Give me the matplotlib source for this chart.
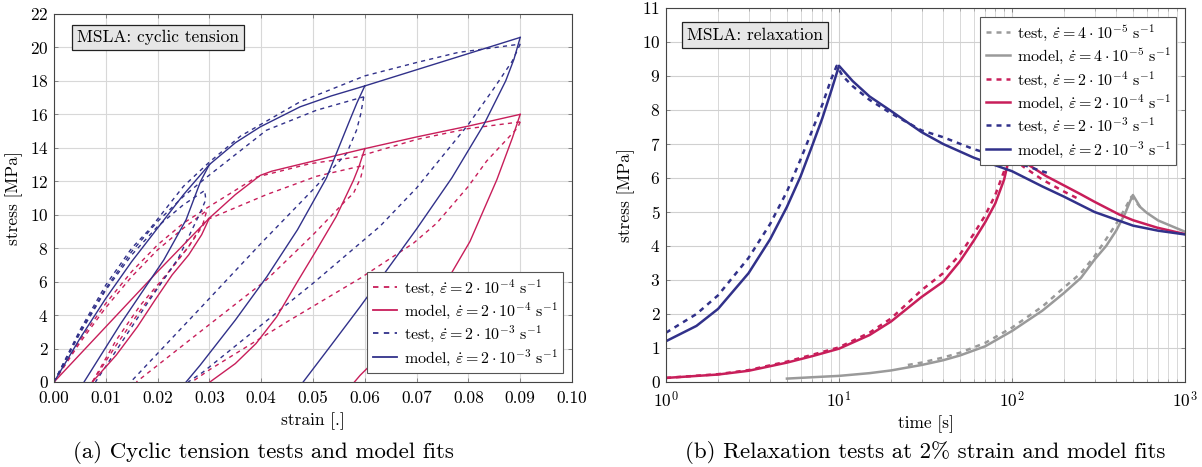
import matplotlib
matplotlib.use("Agg")
import matplotlib.pyplot as plt
from matplotlib.ticker import MultipleLocator

plt.rcParams['font.family'] = ['cmr10', 'DejaVu Serif']
plt.rcParams['mathtext.fontset'] = 'cm'
plt.rcParams['axes.formatter.use_mathtext'] = True
plt.rcParams['axes.unicode_minus'] = False

RED = '#C81E5A'
BLUE = '#31318A'
GRAY = '#9A9A9A'

# ---------------- (a) cyclic tension data: branches (strain, stress) ----------------
# model, 2e-4 1/s
cyc_red_model_strain = [
    [0.0, 0.01, 0.02, 0.03],
    [0.03, 0.0285, 0.026, 0.0228, 0.0195, 0.0161, 0.012, 0.0074],
    [0.03, 0.035, 0.0398, 0.042, 0.0546, 0.06],
    [0.06, 0.0589, 0.0578, 0.0545, 0.0507, 0.047, 0.043, 0.039, 0.035, 0.0301],
    [0.06, 0.07, 0.08, 0.09],
    [0.09, 0.0885, 0.0855, 0.0803, 0.0752, 0.071, 0.067, 0.063, 0.0591, 0.058],
]
cyc_red_model_stress = [
    [0.0, 3.3, 6.6, 9.8],
    [9.8, 8.8, 7.6, 6.4, 4.9, 3.3, 1.6, 0.0],
    [9.8, 11.2, 12.35, 12.6, 13.55, 13.95],
    [13.95, 12.9, 12.05, 9.9, 7.9, 6.0, 3.9, 2.3, 1.1, 0.0],
    [13.95, 14.65, 15.3, 16.0],
    [16.0, 14.6, 12.1, 8.4, 5.7, 4.1, 2.8, 1.6, 0.4, 0.0],
]
# model, 2e-3 1/s
cyc_blue_model_strain = [
    [0.0, 0.005, 0.01, 0.015, 0.02, 0.025, 0.03],
    [0.03, 0.0283, 0.0255, 0.0212, 0.0129, 0.0058],
    [0.03, 0.035, 0.0398, 0.0475, 0.0535, 0.06],
    [0.06, 0.0585, 0.0571, 0.0526, 0.047, 0.0411, 0.035, 0.0282, 0.0255],
    [0.06, 0.075, 0.09],
    [0.09, 0.0888, 0.0872, 0.083, 0.0768, 0.070, 0.0645, 0.0591, 0.0535, 0.0481],
]
cyc_blue_model_stress = [
    [0.0, 2.6, 5.0, 7.2, 9.2, 11.2, 13.0],
    [13.0, 12.0, 9.7, 7.3, 3.5, 0.0],
    [13.0, 14.3, 15.25, 16.45, 17.1, 17.7],
    [17.7, 16.7, 15.65, 12.2, 9.1, 6.3, 3.7, 1.0, 0.0],
    [17.7, 19.15, 20.6],
    [20.6, 19.3, 18.0, 15.4, 12.2, 9.15, 6.8, 4.5, 2.2, 0.0],
]
# test, 2e-4 1/s
cyc_red_test_strain = [
    [0.0, 0.005, 0.01, 0.015, 0.02, 0.025, 0.0295, 0.0391, 0.0494, 0.0584, 0.07, 0.08, 0.09],
    [0.0, 0.005, 0.01, 0.015, 0.02, 0.025, 0.0295, 0.0288, 0.026, 0.022, 0.0167, 0.012, 0.0074],
    [0.0074, 0.012, 0.0167, 0.0219, 0.026, 0.0295, 0.041, 0.0507, 0.0598],
    [0.0598, 0.0592, 0.0578, 0.0565, 0.050, 0.041, 0.0282, 0.0159],
    [0.09, 0.0895, 0.0874, 0.0835, 0.08, 0.0739, 0.0694, 0.0591, 0.045, 0.0301, 0.0266],
]
cyc_red_test_stress = [
    [0.0, 2.5, 4.7, 6.6, 8.2, 9.5, 10.4, 12.25, 13.05, 13.45, 14.5, 15.15, 15.55],
    [0.0, 2.35, 4.45, 6.3, 7.9, 9.2, 10.25, 9.5, 8.1, 6.5, 4.3, 2.2, 0.0],
    [0.0, 2.5, 4.6, 6.5, 8.1, 9.7, 11.2, 12.3, 12.95],
    [12.95, 12.2, 11.27, 10.9, 8.8, 6.1, 3.0, 0.0],
    [15.55, 15.2, 14.5, 13.2, 11.7, 9.5, 8.3, 6.2, 3.6, 0.75, 0.0],
]
# test, 2e-3 1/s
cyc_blue_test_strain = [
    [0.0, 0.005, 0.01, 0.015, 0.0185, 0.025, 0.03, 0.036, 0.0475, 0.06, 0.07, 0.078, 0.09],
    [0.0, 0.005, 0.01, 0.015, 0.02, 0.025, 0.0291, 0.0293, 0.0282, 0.024, 0.018, 0.0129, 0.008],
    [0.0, 0.005, 0.01, 0.015, 0.02, 0.025, 0.0295, 0.041, 0.0507, 0.0598],
    [0.0598, 0.0592, 0.0584, 0.0565, 0.050, 0.040, 0.0282, 0.0148],
    [0.09, 0.0885, 0.0848, 0.08, 0.07, 0.0629, 0.0591, 0.05, 0.04, 0.0288, 0.0259],
]
cyc_blue_test_stress = [
    [0.0, 3.1, 5.8, 8.0, 9.15, 11.7, 13.15, 14.7, 16.75, 18.3, 19.1, 19.7, 20.2],
    [0.0, 2.9, 5.5, 7.6, 9.3, 10.6, 11.45, 10.9, 10.1, 7.4, 4.7, 2.3, 0.0],
    [0.0, 3.0, 5.6, 7.8, 9.6, 11.1, 12.25, 15.05, 16.25, 17.05],
    [17.05, 16.0, 15.05, 13.67, 11.5, 8.3, 4.4, 0.0],
    [20.2, 19.2, 17.5, 15.4, 11.6, 9.3, 8.3, 5.9, 3.4, 0.6, 0.0],
]

# ---------------- (b) relaxation data: (time, stress) ----------------
rel_gray_test_time = [25, 30, 40, 50, 70, 100, 150, 200, 250, 300, 350, 400, 450, 490, 510, 560]
rel_gray_test_stress = [0.5, 0.57, 0.72, 0.86, 1.15, 1.6, 2.22, 2.78, 3.2, 3.7, 4.2, 4.65, 5.1, 5.45, 5.35, 5.1]
rel_gray_model_time = [5, 7, 10, 15, 20, 30, 40, 50, 70, 100, 150, 200, 250, 300, 350, 400, 450, 480, 500,
                       550, 600, 700, 850, 1000]
rel_gray_model_stress = [0.1, 0.14, 0.18, 0.26, 0.34, 0.5, 0.64, 0.78, 1.05, 1.5, 2.1, 2.62, 3.06, 3.6, 4.0,
                         4.45, 4.95, 5.3, 5.5, 5.15, 4.98, 4.75, 4.57, 4.42]
rel_red_test_time = [1, 2, 3, 5, 7, 10, 15, 20, 30, 40, 50, 60, 70, 80, 90, 96, 100, 115, 150, 200, 250]
rel_red_test_stress = [0.12, 0.23, 0.35, 0.6, 0.8, 1.02, 1.45, 1.87, 2.7, 3.2, 3.75, 4.35, 4.9, 5.5, 6.2,
                       6.9, 6.8, 6.35, 5.95, 5.6, 5.35]
rel_red_model_time = [1, 2, 3, 5, 7, 10, 15, 20, 30, 40, 50, 60, 70, 80, 90, 100, 115, 157, 200, 250, 300,
                      415, 500, 690, 1000]
rel_red_model_stress = [0.12, 0.22, 0.33, 0.57, 0.76, 0.98, 1.38, 1.78, 2.5, 2.95, 3.55, 4.15, 4.7, 5.25,
                        5.95, 6.95, 6.5, 6.06, 5.78, 5.52, 5.3, 4.93, 4.76, 4.54, 4.35]
rel_blue_test_time = [1, 1.5, 2, 3, 4, 5, 6, 7, 8, 9, 9.7, 10.5, 12, 15, 20, 30, 40, 60, 100, 130, 160]
rel_blue_test_stress = [1.45, 2.0, 2.55, 3.65, 4.65, 5.6, 6.55, 7.4, 8.15, 8.9, 9.3, 9.0, 8.7, 8.3, 7.9,
                        7.4, 7.2, 6.85, 6.5, 6.3, 6.15]
rel_blue_model_time = [1, 1.5, 2, 3, 4, 5, 6, 7, 8, 9, 10, 12, 15, 20, 30, 40, 60, 100, 150, 200, 300,
                       500, 700, 1000]
rel_blue_model_stress = [1.2, 1.65, 2.15, 3.2, 4.2, 5.15, 6.05, 6.95, 7.75, 8.55, 9.3, 8.85, 8.4, 7.97, 7.35,
                         7.0, 6.6, 6.2, 5.75, 5.45, 5.0, 4.6, 4.45, 4.34]

legend_a = [r'test, $\dot{\varepsilon} = 2\cdot 10^{-4}\ \mathrm{s}^{-1}$',
            r'model, $\dot{\varepsilon} = 2\cdot 10^{-4}\ \mathrm{s}^{-1}$',
            r'test, $\dot{\varepsilon} = 2\cdot 10^{-3}\ \mathrm{s}^{-1}$',
            r'model, $\dot{\varepsilon} = 2\cdot 10^{-3}\ \mathrm{s}^{-1}$']
legend_b = [r'test, $\dot{\varepsilon} = 4\cdot 10^{-5}\ \mathrm{s}^{-1}$',
            r'model, $\dot{\varepsilon} = 4\cdot 10^{-5}\ \mathrm{s}^{-1}$'] + legend_a

fig = plt.figure(figsize=(12.02, 4.67), dpi=100)
axa = fig.add_axes([54 / 1202, 1 - 382 / 467, 518 / 1202, 368 / 467])
axb = fig.add_axes([666 / 1202, 1 - 382 / 467, 519 / 1202, 374 / 467])

DASH = (0, (3, 3))
TICK_FS = 12.5
LABEL_FS = 12.5
LEG_FS = 11.5
LEG_KW = dict(fontsize=LEG_FS, frameon=True, fancybox=False, edgecolor='#555555', framealpha=1,
              handlelength=1.55, borderpad=0.35, labelspacing=0.18, handletextpad=0.4)


def style_axes(ax):
    ax.set_axisbelow(True)
    for s in ax.spines.values():
        s.set_color('#444444')
        s.set_linewidth(0.8)
    ax.tick_params(direction='in', length=3, width=0.6, color='#777777', labelsize=TICK_FS,
                   top=True, right=True)
    ax.tick_params(axis='x', pad=6)
    ax.tick_params(axis='y', pad=4)
    ax.tick_params(which='minor', direction='in', length=2, width=0.5, color='#999999',
                   top=True, right=True)


# ---- (a) ----
lw_a = 1.0
for xs, ys in zip(cyc_red_test_strain, cyc_red_test_stress):
    axa.plot(xs, ys, color=RED, lw=lw_a, ls=DASH)
for xs, ys in zip(cyc_blue_test_strain, cyc_blue_test_stress):
    axa.plot(xs, ys, color=BLUE, lw=lw_a, ls=DASH)
for xs, ys in zip(cyc_red_model_strain, cyc_red_model_stress):
    axa.plot(xs, ys, color=RED, lw=lw_a)
for xs, ys in zip(cyc_blue_model_strain, cyc_blue_model_stress):
    axa.plot(xs, ys, color=BLUE, lw=lw_a)
ha = [plt.Line2D([], [], color=RED, lw=1.3, ls=DASH),
      plt.Line2D([], [], color=RED, lw=1.3),
      plt.Line2D([], [], color=BLUE, lw=1.3, ls=DASH),
      plt.Line2D([], [], color=BLUE, lw=1.3)]
axa.set_xlim(0, 0.1)
axa.set_ylim(0, 22)
axa.xaxis.set_major_locator(MultipleLocator(0.01))
axa.yaxis.set_major_locator(MultipleLocator(2))
axa.xaxis.set_major_formatter(plt.FuncFormatter(lambda v, p: f'{v:.2f}'))
axa.grid(True, color='#d8d8d8', lw=0.8)
style_axes(axa)
axa.set_xlabel('strain [.]', fontsize=LABEL_FS, labelpad=5)
axa.set_ylabel('stress [MPa]', fontsize=LABEL_FS, labelpad=5)
la = axa.legend(ha, legend_a, loc='lower right', borderaxespad=0.55, **LEG_KW)
la.get_frame().set_linewidth(0.8)
axa.text(0.045, 0.936, 'MSLA: cyclic tension', transform=axa.transAxes, fontsize=12.5,
         ha='left', va='center',
         bbox=dict(boxstyle='square,pad=0.3', facecolor='#e6e6e6', edgecolor='#222222', lw=0.9))

# ---- (b) ----
lw_b = 1.8
axb.plot(rel_gray_test_time, rel_gray_test_stress, color=GRAY, lw=lw_b, ls=(0, (2, 2)), label=legend_b[0])
axb.plot(rel_gray_model_time, rel_gray_model_stress, color=GRAY, lw=lw_b, label=legend_b[1])
axb.plot(rel_red_test_time, rel_red_test_stress, color=RED, lw=lw_b, ls=(0, (2, 2)), label=legend_b[2])
axb.plot(rel_red_model_time, rel_red_model_stress, color=RED, lw=lw_b, label=legend_b[3])
axb.plot(rel_blue_test_time, rel_blue_test_stress, color=BLUE, lw=lw_b, ls=(0, (2, 2)), label=legend_b[4])
axb.plot(rel_blue_model_time, rel_blue_model_stress, color=BLUE, lw=lw_b, label=legend_b[5])
axb.set_xscale('log')
axb.set_xlim(1, 1000)
axb.set_ylim(0, 11)
axb.yaxis.set_major_locator(MultipleLocator(1))
axb.grid(True, which='major', color='#d0d0d0', lw=0.8)
axb.grid(True, which='minor', axis='x', color='#d8d8d8', lw=0.7)
style_axes(axb)
axb.set_xlabel('time [s]', fontsize=LABEL_FS, labelpad=3)
axb.set_ylabel('stress [MPa]', fontsize=LABEL_FS, labelpad=5)
lb = axb.legend(loc='upper right', borderaxespad=0.55, **LEG_KW)
lb.get_frame().set_linewidth(0.8)
axb.text(0.04, 0.928, 'MSLA: relaxation', transform=axb.transAxes, fontsize=12.5,
         ha='left', va='center',
         bbox=dict(boxstyle='square,pad=0.3', facecolor='#e6e6e6', edgecolor='#222222', lw=0.9))

fig.text(263 / 1202, 1 - 453 / 467, '(a) Cyclic tension tests and model fits', fontsize=16.5,
         ha='center', va='center')
fig.text(925 / 1202, 1 - 453 / 467, '(b) Relaxation tests at 2% strain and model fits', fontsize=16.5,
         ha='center', va='center')

fig.savefig('out.png', dpi=100)
